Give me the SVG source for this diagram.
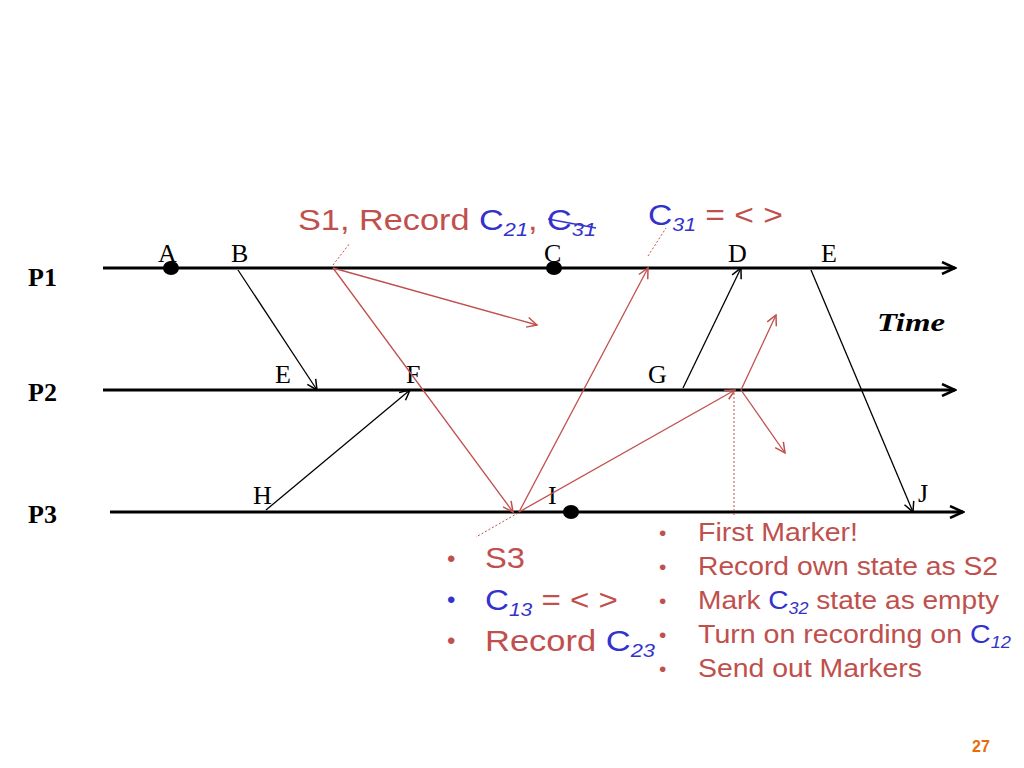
<svg xmlns="http://www.w3.org/2000/svg" width="1024" height="768" viewBox="0 0 1024 768">
<style>
.t{font-family:"Liberation Serif",serif;font-size:26px;fill:#000}
.r{font-family:"Liberation Sans",sans-serif;fill:#c0504d}
.b{fill:#3333cc}
.ax{stroke:#000;stroke-width:3;fill:none}
.k{stroke:#000;stroke-width:1.3;fill:none}
.m{stroke:#c0504d;stroke-width:1.3;fill:none}
.d{stroke:#c0504d;stroke-width:1;stroke-dasharray:2,2;fill:none}
</style>
<defs>
<marker id="ak" markerWidth="12" markerHeight="12" refX="11" refY="6" orient="auto" markerUnits="userSpaceOnUse"><path d="M1,1 L11,6 L1,11" fill="none" stroke="#000" stroke-width="1.5"/></marker>
<marker id="am" markerWidth="12" markerHeight="12" refX="11" refY="6" orient="auto" markerUnits="userSpaceOnUse"><path d="M1,1 L11,6 L1,11" fill="none" stroke="#c0504d" stroke-width="1.5"/></marker>
<marker id="ax" markerWidth="16" markerHeight="14" refX="14" refY="7" orient="auto" markerUnits="userSpaceOnUse"><path d="M1,1 L14,7 L1,13" fill="none" stroke="#000" stroke-width="2.5"/></marker>
</defs>
<g id="processes">
<line class="ax" x1="103" y1="268" x2="955" y2="268" marker-end="url(#ax)"/>
<line class="ax" x1="103" y1="390" x2="955" y2="390" marker-end="url(#ax)"/>
<line class="ax" x1="110" y1="512" x2="963" y2="512" marker-end="url(#ax)"/>
<text class="t" x="28" y="286" font-weight="bold">P1</text>
<text class="t" x="28" y="401" font-weight="bold">P2</text>
<text class="t" x="28" y="523" font-weight="bold">P3</text>
<text class="t" x="877" y="331" font-size="29" font-style="italic" font-weight="bold" textLength="68" lengthAdjust="spacingAndGlyphs">Time</text>
</g>
<g id="events">
<ellipse cx="171" cy="268" rx="8" ry="7"/>
<ellipse cx="554" cy="268" rx="8" ry="7"/>
<ellipse cx="571" cy="512" rx="8" ry="7"/>
<text class="t" x="158" y="262">A</text><text class="t" x="231" y="262">B</text>
<text class="t" x="544" y="262">C</text><text class="t" x="728" y="262">D</text>
<text class="t" x="821" y="262">E</text>
<text class="t" x="275" y="383">E</text><text class="t" x="406" y="383">F</text>
<text class="t" x="648" y="383">G</text>
<text class="t" x="253" y="504">H</text><text class="t" x="548" y="504">I</text>
<text class="t" x="918" y="502">J</text>
</g>
<g id="connectors">
<line class="k" x1="238" y1="270" x2="317" y2="390" marker-end="url(#ak)"/>
<line class="k" x1="266" y1="510" x2="410" y2="390" marker-end="url(#ak)"/>
<line class="k" x1="683" y1="388" x2="741" y2="268" marker-end="url(#ak)"/>
<line class="k" x1="811" y1="270" x2="913" y2="512" marker-end="url(#ak)"/>
<line class="m" x1="333" y1="268" x2="537" y2="325" marker-end="url(#am)"/>
<line class="m" x1="333" y1="268" x2="513" y2="512" marker-end="url(#am)"/>
<line class="m" x1="519" y1="512" x2="648" y2="268" marker-end="url(#am)"/>
<line class="m" x1="519" y1="512" x2="735" y2="390" marker-end="url(#am)"/>
<line class="m" x1="741" y1="390" x2="776" y2="315" marker-end="url(#am)"/>
<line class="m" x1="741" y1="390" x2="785" y2="453" marker-end="url(#am)"/>
<line class="d" x1="333" y1="265" x2="350" y2="243"/>
<line class="d" x1="648" y1="256" x2="666" y2="228"/>
<line class="d" x1="734" y1="393" x2="734" y2="516"/>
<line class="d" x1="518" y1="513" x2="476" y2="537"/>
</g>
<g id="annotations">
<text class="r" x="298" y="230" font-size="30" textLength="298" lengthAdjust="spacingAndGlyphs">S1, Record <tspan class="b">C</tspan><tspan class="b" font-size="19" font-style="italic" dy="6">21</tspan><tspan dy="-6">, </tspan><tspan class="b">C</tspan><tspan class="b" font-size="19" font-style="italic" dy="6">31</tspan></text>
<line x1="548" y1="219" x2="596" y2="228" stroke="#3333cc" stroke-width="1.5"/>
<text class="r" x="648" y="225" font-size="30" textLength="135" lengthAdjust="spacingAndGlyphs"><tspan class="b">C</tspan><tspan class="b" font-size="19" font-style="italic" dy="6">31</tspan><tspan dy="-6"> = &lt; &gt;</tspan></text>
<text class="r" x="447" y="567" font-size="24">•</text><text class="r" x="485" y="568" font-size="30" textLength="40" lengthAdjust="spacingAndGlyphs">S3</text>
<text class="b" x="447" y="608" font-size="24" font-family="Liberation Sans,sans-serif">•</text><text class="r" x="485" y="610" font-size="30" textLength="133" lengthAdjust="spacingAndGlyphs"><tspan class="b">C</tspan><tspan class="b" font-size="19" font-style="italic" dy="6">13</tspan><tspan dy="-6"> = &lt; &gt;</tspan></text>
<text class="r" x="447" y="649" font-size="24">•</text><text class="r" x="485" y="651" font-size="30" textLength="170" lengthAdjust="spacingAndGlyphs">Record <tspan class="b">C</tspan><tspan class="b" font-size="19" font-style="italic" dy="6">23</tspan></text>
<text class="r" x="659" y="540" font-size="21">•</text><text class="r" x="698" y="541" font-size="25" textLength="160" lengthAdjust="spacingAndGlyphs">First Marker!</text>
<text class="r" x="659" y="574" font-size="21">•</text><text class="r" x="698" y="575" font-size="25" textLength="300" lengthAdjust="spacingAndGlyphs">Record own state as S2</text>
<text class="r" x="659" y="608" font-size="21">•</text><text class="r" x="698" y="609" font-size="25" textLength="301" lengthAdjust="spacingAndGlyphs">Mark <tspan class="b">C</tspan><tspan class="b" font-size="16" font-style="italic" dy="5">32</tspan><tspan dy="-5"> state as empty</tspan></text>
<text class="r" x="659" y="642" font-size="21">•</text><text class="r" x="698" y="643" font-size="25" textLength="313" lengthAdjust="spacingAndGlyphs">Turn on recording on <tspan class="b">C</tspan><tspan class="b" font-size="16" font-style="italic" dy="5">12</tspan></text>
<text class="r" x="659" y="676" font-size="21">•</text><text class="r" x="698" y="677" font-size="25" textLength="224" lengthAdjust="spacingAndGlyphs">Send out Markers</text>
<text x="972" y="752" font-family="Liberation Sans,sans-serif" font-size="16" font-weight="bold" fill="#e46c0a">27</text>
</g>
</svg>
